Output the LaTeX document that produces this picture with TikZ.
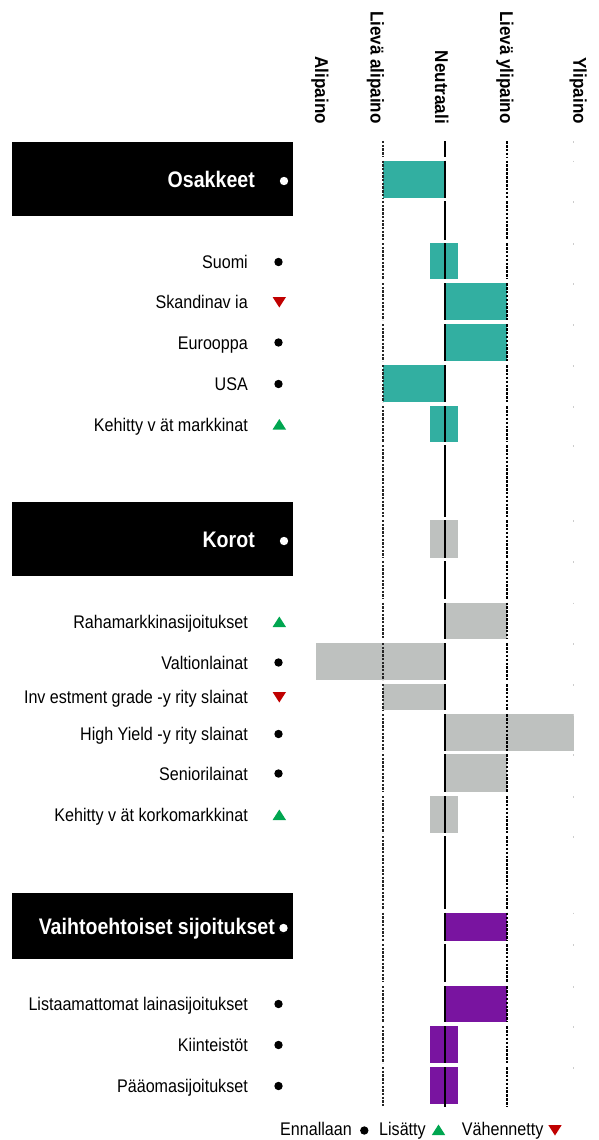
\documentclass[tikz,border=0pt]{standalone}
\usepackage{fontspec}
\setmainfont{Liberation Sans}
\newfontfamily\labfont[FakeStretch=0.88]{Liberation Sans}
\newfontfamily\boxfont[FakeStretch=0.87]{Liberation Sans Bold}
\newfontfamily\hdrfont[FakeStretch=0.92]{Liberation Sans Bold}
\definecolor{tealbar}{HTML}{32AFA1}
\definecolor{graybar}{HTML}{BEC1BF}
\definecolor{purplebar}{HTML}{7914A0}
\definecolor{upgreen}{HTML}{00A650}
\definecolor{downred}{HTML}{C00000}
\newcommand\mkdot[2][278.5]{\fill (#1,#2) circle (4.2);}
\newcommand\mkup[2][279.3]{\fill[upgreen] ({#1-6.7},{#2+5}) -- ({#1+6.7},{#2+5}) -- (#1,{#2-5.5}) -- cycle;}
\newcommand\mkdn[2][279.3]{\fill[downred] ({#1-6.7},{#2-5}) -- ({#1+6.7},{#2-5}) -- (#1,{#2+5.5}) -- cycle;}
\begin{document}
\begin{tikzpicture}[x=1pt,y=-1pt,
  lbl/.style={font=\labfont\fontsize{18.3}{20}\selectfont, anchor=base east, inner sep=0pt},
  leg/.style={font=\labfont\fontsize{18.3}{20}\selectfont, anchor=base west, inner sep=0pt},
  boxt/.style={font=\boxfont\fontsize{22.5}{24}\selectfont, text=white, anchor=base east, inner sep=0pt},
  hdr/.style={font=\hdrfont\fontsize{18.5}{20}\selectfont, rotate=-90, anchor=base east, inner sep=0pt},
  neutral/.style={line width=2pt, black},
  ldash/.style={line width=2pt, black!85, dash pattern=on 2.4pt off 1.3pt},
  rdash/.style={line width=2.2pt, black, dash pattern=on 2.6pt off 1.3pt},
  tick/.style={line width=1pt, black!20}]
\useasboundingbox (0,0) rectangle (598,1140);

% column headers
\node[hdr] (h1) at (315,124) {Alipaino};
\node[hdr] (h2) at (370.7,124) {Lievä alipaino};
\node[hdr] (h3) at (435,124) {Neutraali};
\node[hdr] (h4) at (500,124) {Lievä ylipaino};
\node[hdr] (h5) at (573.4,124) {Ylipaino};

% section boxes
\fill[black] (12,142) rectangle (293,216);
\fill[black] (12,502) rectangle (293,576);
\fill[black] (12,893) rectangle (293,959);
\node[boxt] (osk) at (255,187) {Osakkeet};
\node[boxt] (kor) at (255,547) {Korot};
\node[boxt] (vai) at (275,934) {Vaihtoehtoiset sijoitukset};
\fill[white] (284,181) circle (4.2);
\fill[white] (284,541) circle (4.2);
\fill[white] (283.5,928) circle (4.2);

% bars
\fill[tealbar] (383,160.5) rectangle (445,197.7);
\fill[tealbar] (430,243) rectangle (458,279);
\fill[tealbar] (445,283) rectangle (507,320);
\fill[tealbar] (445,324) rectangle (507,361);
\fill[tealbar] (383,365) rectangle (445,402);
\fill[tealbar] (430,406) rectangle (458,442);
\fill[graybar] (430,520) rectangle (458,558);
\fill[graybar] (445,602.5) rectangle (507,639);
\fill[graybar] (316,643) rectangle (445,680);
\fill[graybar] (383,684) rectangle (445,710);
\fill[graybar] (445,714) rectangle (574,751);
\fill[graybar] (445,754) rectangle (507,792);
\fill[graybar] (430,796) rectangle (458,833);
\fill[purplebar] (445,912.7) rectangle (507,941);
\fill[purplebar] (445,986) rectangle (507,1022);
\fill[purplebar] (430,1026) rectangle (458,1063);
\fill[purplebar] (430,1067) rectangle (458,1104);

% grid lines, one segment per row
\foreach \t/\b in {141/157, 160.5/197.7, 201/239.5, 243/279, 283/320, 324/361, 365/402,
  406/442, 445/517, 520/558, 561/599, 602.5/639, 643/680, 684/710, 714/751, 754/792,
  796/833, 836/909, 912.7/941, 944/982, 986/1022, 1026/1063, 1067/1107}{
  \draw[ldash] (383,\t) -- (383,\b);
  \draw[rdash] (507,\t) -- (507,\b);
  \draw[neutral] (445,\t) -- (445,\b);
  \draw[tick] (573.5,\t) -- (573.5,\t+1.5);
}

% row labels
\node[lbl] (r1) at (248,268.5) {Suomi};            \mkdot{262}
\node[lbl] (r2) at (248,308.5) {Skandinav ia};     \mkdn{302}
\node[lbl] (r3) at (248,349) {Eurooppa};           \mkdot{342.5}
\node[lbl] (r4) at (248,390.5) {USA};              \mkdot{384}
\node[lbl] (r5) at (248,431) {Kehitty v ät markkinat}; \mkup{424.5}
\node[lbl] (r6) at (248,628.5) {Rahamarkkinasijoitukset}; \mkup{622}
\node[lbl] (r7) at (248,669) {Valtionlainat};      \mkdot{662.5}
\node[lbl] (r8) at (248,703.5) {Inv estment grade -y rity slainat}; \mkdn{697}
\node[lbl] (r9) at (248,740.5) {High Yield -y rity slainat}; \mkdot{734}
\node[lbl] (r10) at (248,780) {Seniorilainat};     \mkdot{773.5}
\node[lbl] (r11) at (248,821.5) {Kehitty v ät korkomarkkinat}; \mkup{815}
\node[lbl] (r12) at (248,1010) {Listaamattomat lainasijoitukset}; \mkdot{1004}
\node[lbl] (r13) at (248,1051) {Kiinteistöt};      \mkdot{1045}
\node[lbl] (r14) at (248,1092) {Pääomasijoitukset}; \mkdot{1086}

% legend
\node[leg] (l1) at (280,1135.5) {Ennallaan};
\mkdot[364.3]{1130.5}
\node[leg] (l2) at (379,1135.5) {Lisätty};
\mkup[438.5]{1130}
\node[leg] (l3) at (461.7,1135.5) {Vähennetty};
\mkdn[555]{1130}
\end{tikzpicture}
\end{document}
